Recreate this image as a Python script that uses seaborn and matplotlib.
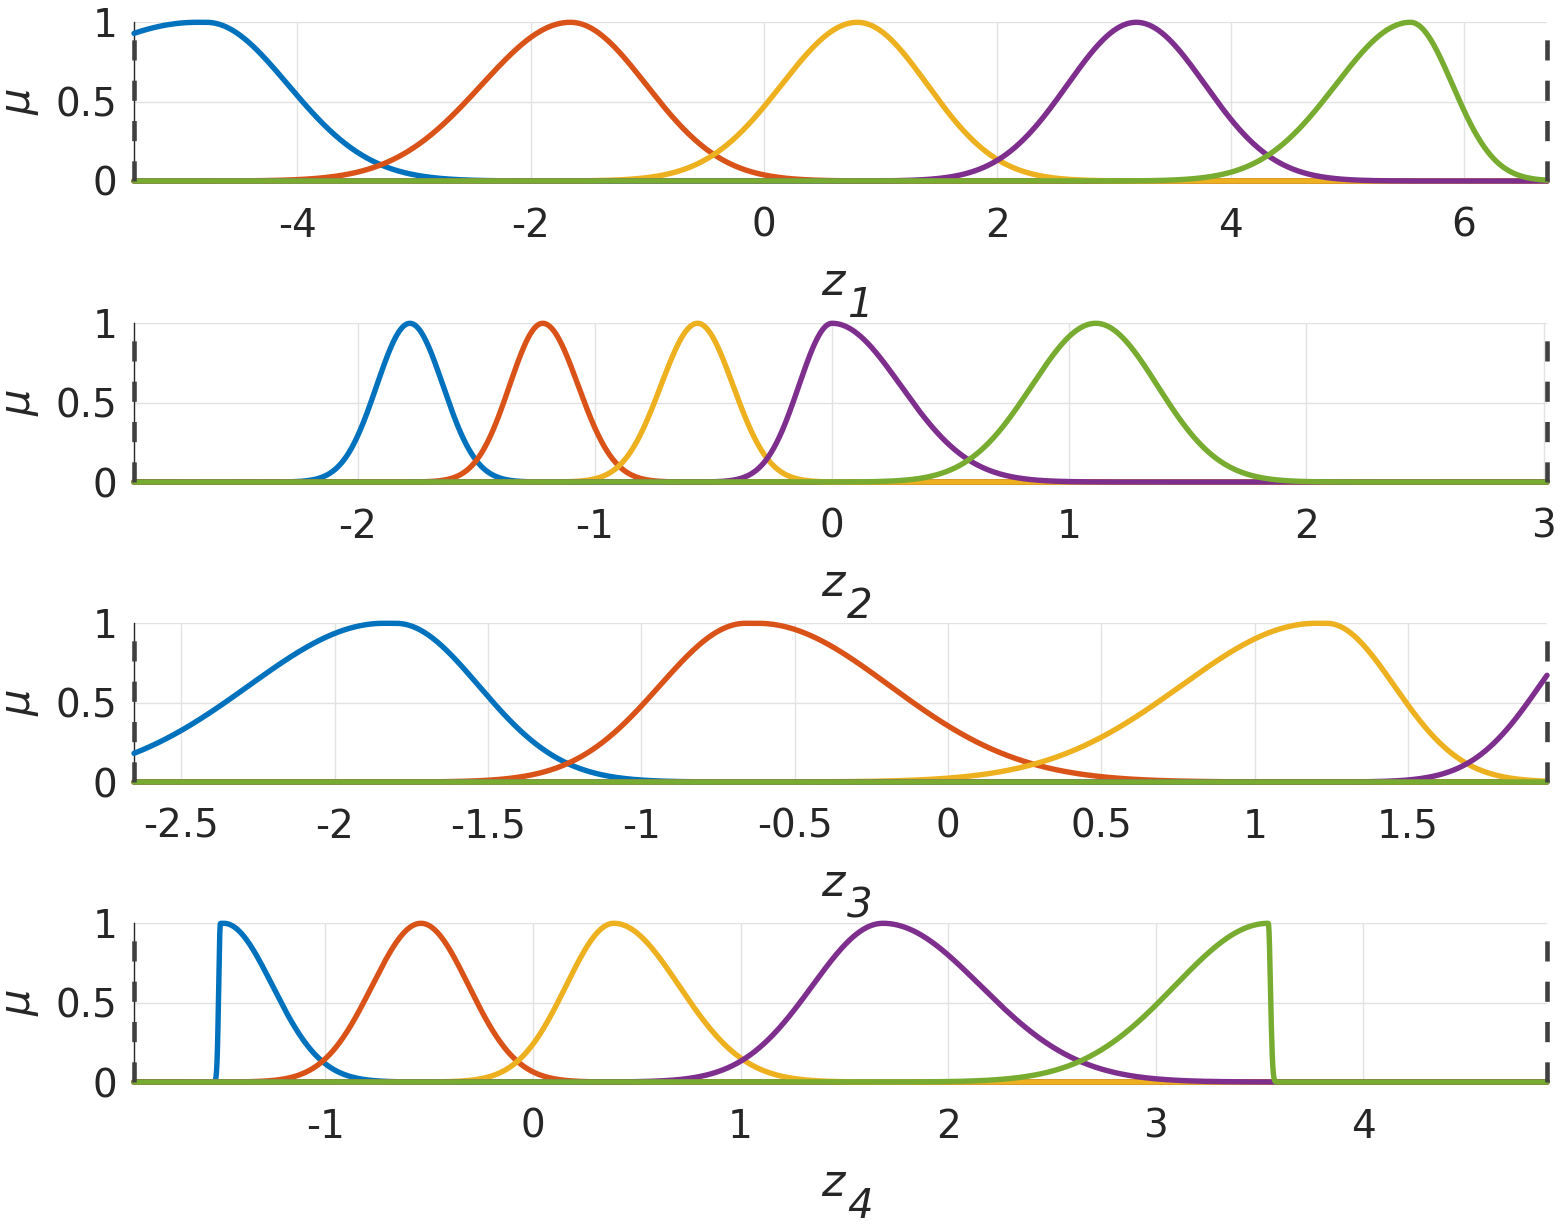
import numpy as np
import pandas as pd
import matplotlib
matplotlib.use("Agg")
import matplotlib.pyplot as plt
import seaborn as sns

# ---- data: two-sided Gaussian membership functions ----
# per input variable: left centre, right centre, left sigma, right sigma (5 fuzzy sets)
z1_c_left = [-4.86, -1.66, 0.80, 3.19, 5.54]
z1_c_right = [-4.78, -1.66, 0.80, 3.19, 5.54]
z1_s_left = [1.42, 0.76, 0.65, 0.59, 0.64]
z1_s_right = [0.70, 0.65, 0.60, 0.59, 0.36]
z1_range = [-5.40, 6.71]
z1_ticks = [-4, -2, 0, 2, 4, 6]
z1_ticklabels = ["-4", "-2", "0", "2", "4", "6"]

z2_c_left = [-1.78, -1.22, -0.567, 0.0, 1.112]
z2_c_right = [-1.78, -1.22, -0.567, 0.0, 1.112]
z2_s_left = [0.14, 0.14, 0.155, 0.14, 0.27]
z2_s_right = [0.14, 0.15, 0.15, 0.29, 0.26]
z2_range = [-2.943, 3.014]
z2_ticks = [-2, -1, 0, 1, 2, 3]
z2_ticklabels = ["-2", "-1", "0", "1", "2", "3"]

z3_c_left = [-1.84, -0.66, 1.20, 2.149, 3.0]
z3_c_right = [-1.80, -0.62, 1.235, 2.149, 3.0]
z3_s_left = [0.44, 0.28, 0.44, 0.22, 0.2]
z3_s_right = [0.27, 0.43, 0.22, 0.22, 0.2]
z3_range = [-2.654, 1.953]
z3_ticks = [-2.5, -2, -1.5, -1, -0.5, 0, 0.5, 1, 1.5]
z3_ticklabels = ["-2.5", "-2", "-1.5", "-1", "-0.5", "0", "0.5", "1", "1.5"]

z4_c_left = [-1.505, -0.539, 0.39, 1.686, 3.542]
z4_c_right = [-1.489, -0.539, 0.39, 1.686, 3.542]
z4_s_left = [0.008, 0.235, 0.23, 0.34, 0.45]
z4_s_right = [0.235, 0.23, 0.314, 0.47, 0.01]
z4_range = [-1.921, 4.884]
z4_ticks = [-1, 0, 1, 2, 3, 4]
z4_ticklabels = ["-1", "0", "1", "2", "3", "4"]

mu_ticks = [0, 0.5, 1]
mu_ticklabels = ["0", "0.5", "1"]
xlabels = ["1", "2", "3", "4"]

colors = ["#0072BD", "#D95319", "#EDB120", "#7E2F8E", "#77AC30"]

panels = [
    (z1_c_left, z1_c_right, z1_s_left, z1_s_right, z1_range, z1_ticks, z1_ticklabels),
    (z2_c_left, z2_c_right, z2_s_left, z2_s_right, z2_range, z2_ticks, z2_ticklabels),
    (z3_c_left, z3_c_right, z3_s_left, z3_s_right, z3_range, z3_ticks, z3_ticklabels),
    (z4_c_left, z4_c_right, z4_s_left, z4_s_right, z4_range, z4_ticks, z4_ticklabels),
]


def gauss2mf(x, c1, c2, s1, s2):
    y = np.ones_like(x)
    left = x < c1
    right = x > c2
    y[left] = np.exp(-((x[left] - c1) ** 2) / (2 * s1 ** 2))
    y[right] = np.exp(-((x[right] - c2) ** 2) / (2 * s2 ** 2))
    return y


sns.set_style("white")
plt.rcParams["font.family"] = ["DejaVu Sans"]
plt.rcParams["mathtext.fontset"] = "dejavusans"

W, H = 1561, 1226
fig = plt.figure(figsize=(W / 100, H / 100), dpi=100)

ax_left = 134 / W
ax_width = (1547 - 134) / W
ax_height = 158.7 / H
bottoms_px = [181, 482, 782, 1082]

dark = "#262626"

for i, (cl, cr, sl, sr, rng, ticks, tlabels) in enumerate(panels):
    b = bottoms_px[i]
    ax = fig.add_axes([ax_left, 1 - b / H, ax_width, ax_height])
    x = np.linspace(rng[0], rng[1], 3000)
    for k in range(5):
        y = gauss2mf(x, cl[k], cr[k], sl[k], sr[k])
        df = pd.DataFrame({"z": x, "mu": y})
        sns.lineplot(data=df, x="z", y="mu", ax=ax, color=colors[k], lw=3.9,
                     estimator=None, sort=False, clip_on=False, zorder=3)
    for xe in rng:
        ax.axvline(xe, 0, 1, color="#404040", lw=3.3, linestyle=(0, (4.4, 4.4)),
                   clip_on=False, zorder=4)
    ax.set_xlim(rng[0], rng[1])
    ax.set_ylim(0, 1)
    ax.set_xticks(ticks)
    ax.set_xticklabels(tlabels)
    ax.set_yticks(mu_ticks)
    ax.set_yticklabels(mu_ticklabels)
    ax.grid(True, color="#e2e2e2", lw=1.0)
    ax.set_axisbelow(True)
    for s in ["top", "right"]:
        ax.spines[s].set_visible(False)
    for s in ["left", "bottom"]:
        ax.spines[s].set_color(dark)
        ax.spines[s].set_linewidth(1.0)
    ax.tick_params(direction="in", length=10, width=1.0, color=dark,
                   labelsize=28, labelcolor=dark)
    ax.tick_params(axis="x", pad=18.5)
    ax.tick_params(axis="y", pad=12)
    ax.set_xlabel("")
    ax.set_ylabel(r"$\mu$", fontsize=30, color=dark)
    ax.yaxis.set_label_coords((41 - 134) / (1547 - 134), 0.5)
    # axis label z_i
    fig.text(821 / W, 1 - (b + 114) / H, "z", fontsize=32, fontstyle="italic",
             color=dark, ha="left", va="baseline")
    fig.text(847 / W, 1 - (b + 136) / H, xlabels[i], fontsize=29, fontstyle="italic",
             color=dark, ha="left", va="baseline")

fig.savefig("out.png", dpi=100)
